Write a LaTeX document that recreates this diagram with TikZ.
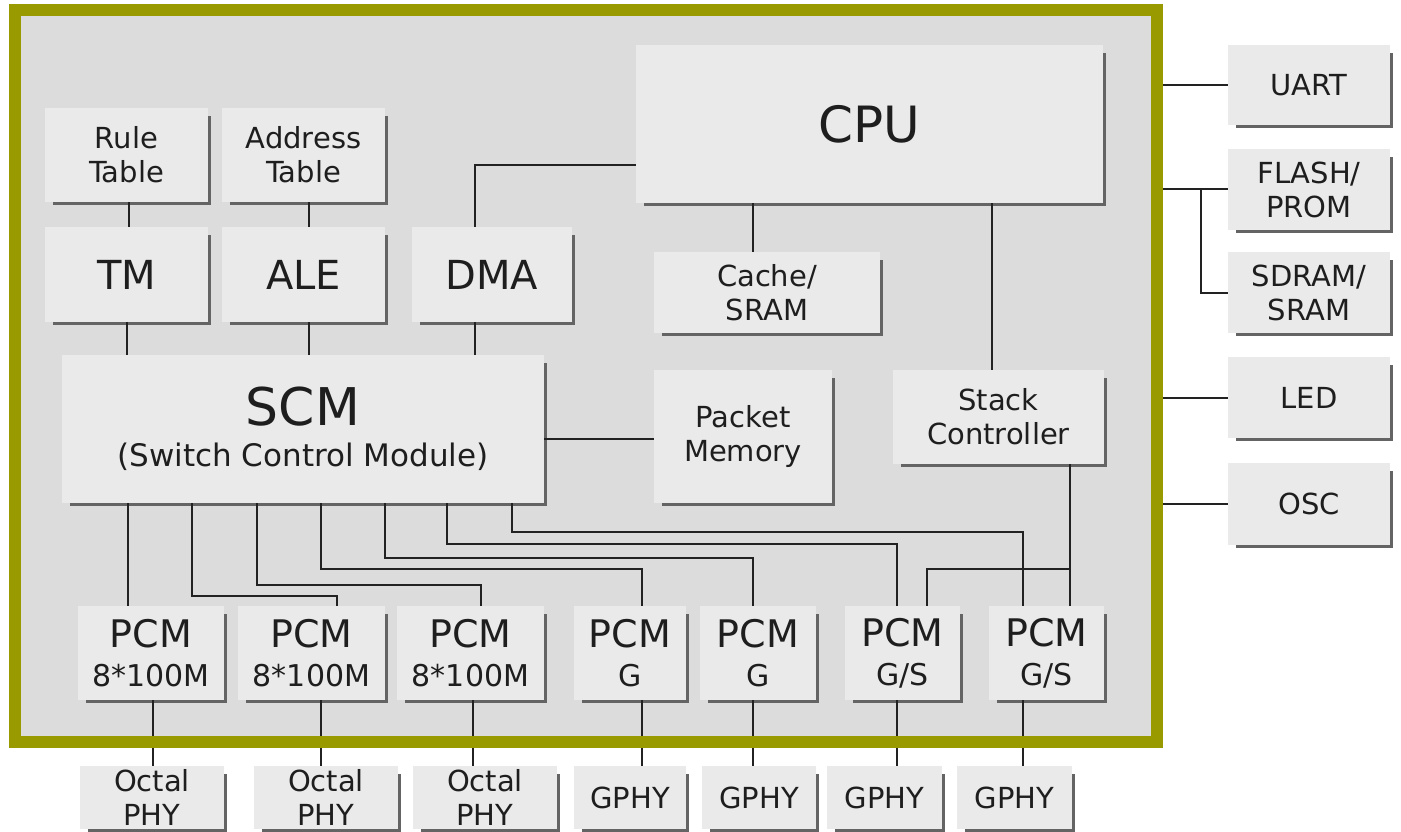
\documentclass[tikz,border=0pt]{standalone}
\usepackage{fontspec}
\setmainfont{DejaVu Sans}
\usetikzlibrary{calc}
\definecolor{frameol}{RGB}{153,153,0}
\definecolor{bgcol}{RGB}{220,220,220}
\definecolor{boxfill}{RGB}{234,234,234}
\definecolor{shcol}{RGB}{100,100,100}
\definecolor{lncol}{RGB}{34,34,34}
\definecolor{txt}{RGB}{30,30,30}
\tikzset{
  box/.style={fill=boxfill, draw=none, inner sep=0pt, align=center, text=txt},
  ln/.style={draw=lncol, line width=2pt},
  lnb/.style={draw=lncol, line width=2.6pt},
  shd/.style={draw=shcol, line width=3pt},
  fbig/.style={font=\fontsize{50}{55}\selectfont},
  fmid/.style={font=\fontsize{40}{44}\selectfont},
  fsm/.style={font=\fontsize{29}{34}\selectfont},
  fpcm/.style={font=\fontsize{30}{39}\selectfont},
  fscm/.style={font=\fontsize{31}{41}\selectfont},
}
\newcommand\bx[5][]{%
  \path let \p1=(#3), \p2=(#4) in
    node[box,#1,minimum width=\x2-\x1,minimum height=\y1-\y2] (#2) at ($(#3)!0.5!(#4)$) {#5};
  \draw[shd] ([xshift=8pt,yshift=-1.5pt]#2.south west) -- ([xshift=1.5pt,yshift=-1.5pt]#2.south east) -- ([xshift=1.5pt,yshift=-8pt]#2.north east);
}
\begin{document}
\begin{tikzpicture}[x=1pt,y=-1pt]
\useasboundingbox (0,0) rectangle (1401,832);
\fill[white] (0,0) rectangle (1401,832);
\fill[bgcol] (16,16) rectangle (1151,736);

% upper left
\bx[fsm]{rule}{45,108}{208,202}{Rule\\Table}
\bx[fsm]{addr}{222,108}{385,202}{Address\\Table}
\bx[fmid]{tm}{45,227}{208,322}{TM}
\bx[fmid]{ale}{222,227}{385,322}{ALE}
\bx[fmid]{dma}{412,227}{572,322}{DMA}
\bx[fbig]{cpu}{636,45}{1103,203}{CPU}
\bx[fsm]{cache}{654,252}{880,333}{Cache/\\SRAM}
\bx[fscm]{scm}{62,355}{544,503}{{\fontsize{52}{41}\selectfont SCM}\\(Switch Control Module)}
\bx[fsm]{pkt}{654,370}{832,503}{Packet\\Memory}
\bx[fsm]{stack}{893,370}{1104,464}{Stack\\Controller}

% PCMs
\bx[fpcm]{pcm1}{78,606}{224,700}{{\fontsize{38}{39}\selectfont PCM}\\8*100M}
\bx[fpcm]{pcm2}{238,606}{385,700}{{\fontsize{38}{39}\selectfont PCM}\\8*100M}
\bx[fpcm]{pcm3}{397,606}{544,700}{{\fontsize{38}{39}\selectfont PCM}\\8*100M}
\bx[fpcm]{pcm4}{574,606}{686,700}{{\fontsize{38}{39}\selectfont PCM}\\G}
\bx[fpcm]{pcm5}{700,606}{816,700}{{\fontsize{38}{39}\selectfont PCM}\\G}
\bx[fpcm]{pcm6}{845,606}{960,700}{{\fontsize{38}{39}\selectfont PCM}\\G/S}
\bx[fpcm]{pcm7}{989,606}{1104,700}{{\fontsize{38}{39}\selectfont PCM}\\G/S}

% PHYs
\bx[fsm]{phy1}{80,766}{224,829}{Octal\\PHY}
\bx[fsm]{phy2}{254,766}{398,829}{Octal\\PHY}
\bx[fsm]{phy3}{413,766}{557,829}{Octal\\PHY}
\bx[fsm]{gphy1}{574,766}{686,829}{GPHY}
\bx[fsm]{gphy2}{702,766}{816,829}{GPHY}
\bx[fsm]{gphy3}{827,766}{942,829}{GPHY}
\bx[fsm]{gphy4}{957,766}{1072,829}{GPHY}

% right side
\bx[fsm]{uart}{1228,45}{1390,125}{UART}
\bx[fsm]{flash}{1228,149}{1390,230}{FLASH/\\PROM}
\bx[fsm]{sdram}{1228,252}{1390,333}{SDRAM/\\SRAM}
\bx[fsm]{led}{1228,357}{1390,438}{LED}
\bx[fsm]{osc}{1228,463}{1390,545}{OSC}

% helper coordinates
\coordinate (fR) at (1163,0);
\coordinate (br) at (1201,0);
\coordinate (xdma) at (475,165);
\coordinate (xcache) at (753,0);
\coordinate (xstk) at (992,0);
\coordinate (xsc) at (1070,569);
\coordinate (x6s) at (927,0);
\coordinate (s1) at (128,0);
\coordinate (s2) at (192,596);  \coordinate (t2) at (337,0);
\coordinate (s3) at (257,585);  \coordinate (t3) at (481,0);
\coordinate (s4) at (321,569);  \coordinate (t4) at (642,0);
\coordinate (s5) at (385,558);  \coordinate (t5) at (753,0);
\coordinate (s6) at (447,544);  \coordinate (t6) at (897,0);
\coordinate (s7) at (512,532);  \coordinate (t7) at (1023,0);
\coordinate (p1) at (153,0);
\coordinate (p2) at (321,0);
\coordinate (p3) at (473,0);
\coordinate (p4) at (642,0);
\coordinate (p5) at (753,0);
\coordinate (p6) at (897,0);
\coordinate (p7) at (1023,0);

% connectors top
\draw[ln] ([xshift=2.5pt]rule.south) -- ([xshift=2.5pt]tm.north);
\draw[ln] ([xshift=5.5pt]addr.south) -- ([xshift=5.5pt]ale.north);
\draw[ln] (tm.south) -- (tm.south |- scm.north);
\draw[ln] ([xshift=5.5pt]ale.south) -- ([xshift=5.5pt]ale.south |- scm.north);
\draw[ln] (dma.south -| xdma) -- (scm.north -| xdma);
\draw[ln] (dma.north -| xdma) -- (xdma) -- (xdma -| cpu.west);
\draw[ln] (cpu.south -| xcache) -- (cache.north -| xcache);
\draw[ln] (cpu.south -| xstk) -- (stack.north -| xstk);
\draw[ln] (scm.east |- 0,439) -- (pkt.west |- 0,439);

% SCM to PCMs
\draw[ln] (scm.south -| s1) -- (pcm1.north -| s1);
\draw[ln] (scm.south -| s2) -- (s2) -| (pcm2.north -| t2);
\draw[ln] (scm.south -| s3) -- (s3) -| (pcm3.north -| t3);
\draw[ln] (scm.south -| s4) -- (s4) -| (pcm4.north -| t4);
\draw[ln] (scm.south -| s5) -- (s5) -| (pcm5.north -| t5);
\draw[ln] (scm.south -| s6) -- (s6) -| (pcm6.north -| t6);
\draw[ln] (scm.south -| s7) -- (s7) -| (pcm7.north -| t7);

% stack controller
\draw[lnb] (stack.south -| xsc) -- (pcm7.north -| xsc);
\draw[lnb] (xsc) -| (pcm6.north -| x6s);

% PCM to PHY
\draw[ln] (pcm1.south -| p1) -- (phy1.north -| p1);
\draw[ln] (pcm2.south -| p2) -- (phy2.north -| p2);
\draw[ln] (pcm3.south -| p3) -- (phy3.north -| p3);
\draw[ln] (pcm4.south -| p4) -- (gphy1.north -| p4);
\draw[ln] (pcm5.south -| p5) -- (gphy2.north -| p5);
\draw[ln] (pcm6.south -| p6) -- (gphy3.north -| p6);
\draw[ln] (pcm7.south -| p7) -- (gphy4.north -| p7);

% right side connectors
\draw[ln] (uart.west) -- (uart.west -| fR);
\draw[ln] (flash.west) -- (flash.west -| fR);
\draw[ln] (sdram.west) -| (flash.west -| br);
\draw[ln] (led.west) -- (led.west -| fR);
\draw[ln] (osc.west) -- (osc.west -| fR);

% frame
\draw[frameol, line width=12pt] (15,10) rectangle (1157,742);
\end{tikzpicture}
\end{document}
